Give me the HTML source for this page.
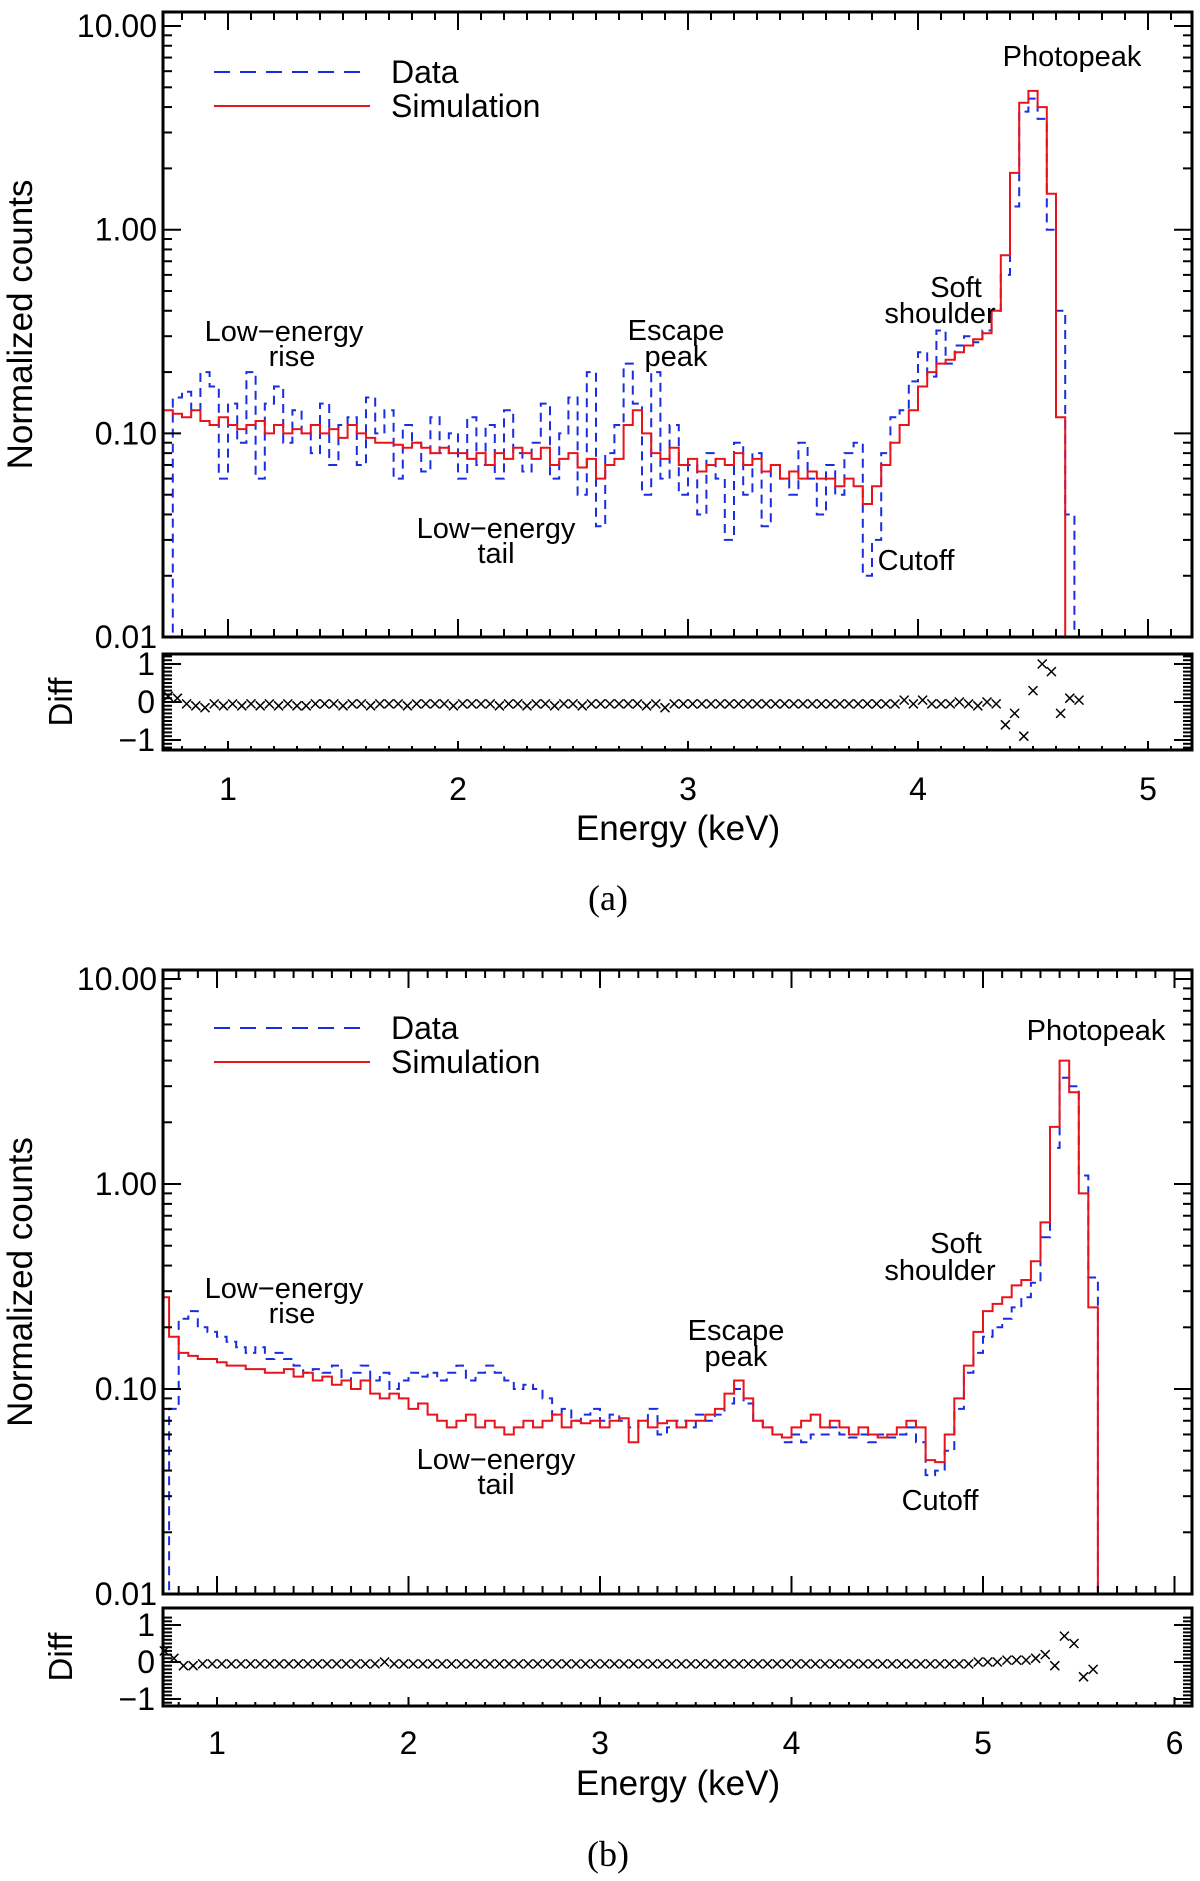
<!DOCTYPE html>
<html><head><meta charset="utf-8"><style>
body{margin:0;background:#fff;width:1200px;height:1881px;overflow:hidden}
svg{display:block}
text{font-family:"Liberation Sans","DejaVu Sans",sans-serif;fill:#000}
</style></head><body>
<svg id="fig" width="1200" height="1881" viewBox="0 0 1200 1881" xmlns="http://www.w3.org/2000/svg"></svg>
<script>
// ---------- Panel (a) data: bins start 0.72 keV, width 0.04 ----------
const simA = [.13,.125,.12,.13,.115,.11,.12,.11,.105,.11,
.115,.10,.11,.10,.105,.10,.11,.10,.105,.095,
.11,.10,.095,.09,.09,.088,.085,.09,.085,.08,
.085,.08,.08,.075,.08,.07,.08,.075,.085,.08,
.075,.085,.07,.075,.08,.068,.075,.06,.07,.075,
.11,.13,.10,.08,.075,.085,.07,.075,.065,.07,
.075,.07,.08,.07,.075,.065,.07,.06,.065,.06,
.065,.06,.06,.055,.06,.055,.045,.055,.07,.09,
.11,.13,.17,.20,.22,.23,.25,.27,.29,.31,
.40,.75,1.9,4.2,4.8,4.0,1.5,.12,.005,.005];
const dataA = [.005,.15,.16,.13,.20,.17,.06,.14,.09,.20,
.06,.14,.17,.09,.13,.10,.08,.14,.07,.11,
.12,.07,.15,.10,.13,.06,.11,.09,.065,.12,
.08,.10,.06,.12,.07,.11,.06,.13,.08,.065,
.09,.14,.06,.10,.15,.05,.20,.035,.08,.11,
.22,.14,.05,.20,.06,.11,.05,.07,.04,.08,
.06,.03,.09,.05,.08,.035,.07,.06,.05,.09,
.06,.04,.07,.05,.08,.09,.02,.03,.08,.12,
.13,.18,.25,.19,.32,.22,.27,.30,.28,.32,
.40,.60,1.3,3.8,4.4,3.5,1.0,.4,.04,.005];
const diffA = [.15,.1,-.05,-.1,-.15,-.05,-.1,-.05,-.1,-.05,
-.1,-.05,-.1,-.05,-.1,-.1,-.05,-.05,-.05,-.1,
-.05,-.05,-.1,-.05,-.05,-.05,-.1,-.05,-.05,-.05,
-.05,-.1,-.05,-.05,-.05,-.05,-.1,-.05,-.05,-.1,
-.05,-.05,-.1,-.05,-.05,-.1,-.05,-.05,-.05,-.05,
-.05,-.05,-.1,-.05,-.15,-.05,-.05,-.05,-.05,-.05,
-.05,-.05,-.05,-.05,-.05,-.05,-.05,-.05,-.05,-.05,
-.05,-.05,-.05,-.05,-.05,-.05,-.05,-.05,-.05,-.05,
.05,-.05,.05,-.05,-.05,-.05,0,-.05,-.1,0,
-.05,-.6,-.3,-.9,.3,1.0,.8,-.3,.1,.05];
// ---------- Panel (b) data: bins start 0.70 keV, width 0.05 ----------
const simB = [.28,.18,.15,.145,.14,.14,.135,.13,.13,.125,
.125,.12,.12,.125,.115,.12,.11,.115,.105,.11,
.10,.11,.095,.09,.095,.09,.08,.085,.075,.07,
.065,.07,.075,.065,.07,.065,.06,.065,.07,.065,
.07,.075,.065,.07,.068,.07,.065,.07,.072,.055,
.07,.065,.068,.07,.065,.07,.07,.075,.08,.095,
.11,.09,.07,.065,.06,.058,.065,.07,.075,.065,
.07,.065,.06,.065,.06,.058,.06,.065,.07,.065,
.045,.044,.06,.09,.13,.19,.24,.26,.28,.32,
.34,.42,.65,1.9,4.0,2.8,.9,.25];
const dataB = [.005,.08,.22,.24,.20,.19,.18,.17,.16,.15,
.16,.14,.15,.14,.13,.12,.125,.12,.13,.11,
.12,.13,.11,.12,.10,.11,.12,.115,.12,.11,
.12,.13,.11,.12,.13,.12,.11,.10,.105,.10,
.09,.075,.08,.07,.075,.08,.07,.075,.07,.065,
.07,.08,.06,.065,.07,.065,.075,.07,.075,.085,
.10,.085,.07,.065,.06,.055,.06,.055,.06,.06,
.065,.06,.058,.06,.055,.06,.058,.06,.065,.055,
.038,.04,.05,.08,.12,.15,.18,.20,.22,.25,
.28,.33,.55,1.5,3.3,3.0,1.1,.35];
const diffB = [.3,.1,-.1,-.1,-.05,-.05,-.05,-.05,-.05,-.05,
-.05,-.05,-.05,-.05,-.05,-.05,-.05,-.05,-.05,-.05,
-.05,-.05,-.05,0,-.05,-.05,-.05,-.05,-.05,-.05,
-.05,-.05,-.05,-.05,-.05,-.05,-.05,-.05,-.05,-.05,
-.05,-.05,-.05,-.05,-.05,-.05,-.05,-.05,-.05,-.05,
-.05,-.05,-.05,-.05,-.05,-.05,-.05,-.05,-.05,-.05,
-.05,-.05,-.05,-.05,-.05,-.05,-.05,-.05,-.05,-.05,
-.05,-.05,-.05,-.05,-.05,-.05,-.05,-.05,-.05,-.05,
-.05,-.05,-.05,-.05,-.05,0,0,0,.05,.05,
.05,.1,.2,-.1,.7,.5,-.4,-.2];
const yTickLabels = ["0.01","0.10","1.00","10.00"];
const yTickVals = [0.01,0.1,1,10];
const diffTickVals = [-1,0,1];
const diffTickLabels = ["\u22121","0","1"];

const NS="http://www.w3.org/2000/svg";
const svg=document.getElementById('fig');
function el(tag,attrs,parent){const e=document.createElementNS(NS,tag);for(const k in attrs)e.setAttribute(k,attrs[k]);(parent||svg).appendChild(e);return e;}

function panel(cfg){
  const g=el('g',{});
  
  
  const L=163,R=1192;
  const xs=e=>cfg.x1px+(e-1)*cfg.kev;
  const ys=v=>cfg.y10+(1-Math.log10(Math.max(v,0.004)))*cfg.dec;
  const yd=v=>cfg.d0-v*cfg.dunit;
  const clipId='clip'+cfg.tag;
  const cp=el('clipPath',{id:clipId},g);
  el('rect',{x:L,y:cfg.top,width:R-L,height:cfg.bot-cfg.top},cp);
  function hist(vals,start,w,attrs,name){
    let d='';
    vals.forEach((v,i)=>{const x0=xs(start+i*w),x1=xs(start+(i+1)*w),y=ys(v);
      d+=(i===0?'M':'L')+x0.toFixed(1)+','+y.toFixed(1)+'L'+x1.toFixed(1)+','+y.toFixed(1);});
    d+='L'+xs(start+vals.length*w).toFixed(1)+','+(cfg.bot+5);
    const p=el('path',Object.assign({d:d,fill:'none','clip-path':'url(#'+clipId+')'},attrs),g);
    
    
  }
  hist(cfg.data,cfg.start,cfg.w,{stroke:'#1a2ee0','stroke-width':2,'stroke-dasharray':'9,6'},'data-series');
  hist(cfg.sim,cfg.start,cfg.w,{stroke:'#e8141c','stroke-width':2},'simulation-series');
  const fr=el('rect',{x:L,y:cfg.top,width:R-L,height:cfg.bot-cfg.top,fill:'none',stroke:'#000','stroke-width':3},g);
  
  for(let e=0.8;e<=cfg.xmax+1e-6;e+=0.1){
    const x=xs(e);if(x<L+2||x>R-2)continue;
    const major=Math.abs(e-Math.round(e))<1e-6;const len=major?18:8;
    el('line',{x1:x,y1:cfg.bot,x2:x,y2:cfg.bot-len,stroke:'#000','stroke-width':2},g);
    el('line',{x1:x,y1:cfg.top,x2:x,y2:cfg.top+len,stroke:'#000','stroke-width':2},g);
    el('line',{x1:x,y1:cfg.dbot,x2:x,y2:cfg.dbot-len*0.5,stroke:'#000','stroke-width':2},g);
    if(major){const t=el('text',{x:x,y:cfg.xlab,'font-size':32,'text-anchor':'middle'},g);t.textContent=Math.round(e);
      }
  }
  for(let d=-2;d<=1;d++){for(let m=1;m<=9;m++){const v=m*Math.pow(10,d);const y=ys(v);
    if(y<cfg.top+1||y>cfg.bot-1)continue;const len=m===1?18:9;
    el('line',{x1:L,y1:y,x2:L+len,y2:y,stroke:'#000','stroke-width':2},g);
    el('line',{x1:R,y1:y,x2:R-len,y2:y,stroke:'#000','stroke-width':2},g);}}
  yTickVals.forEach((v,i)=>{const t=el('text',{x:L-6,y:ys(v)+11,'font-size':32,'text-anchor':'end'},g);t.textContent=yTickLabels[i];
    });
  const yt=el('text',{x:0,y:0,'font-size':35,'text-anchor':'middle',transform:'translate('+32+','+((cfg.top+cfg.bot)/2)+') rotate(-90)'},g);
  yt.textContent='Normalized counts';
  const df=el('rect',{x:L,y:cfg.dtop,width:R-L,height:cfg.dbot-cfg.dtop,fill:'none',stroke:'#000','stroke-width':3},g);
  
  for(let v=-1.2;v<=1.21;v+=0.1){const y=yd(v);if(y<cfg.dtop+2||y>cfg.dbot-2)continue;
    const major=Math.abs(v-Math.round(v))<1e-6;const len=major?18:9;
    el('line',{x1:L,y1:y,x2:L+len,y2:y,stroke:'#000','stroke-width':2},g);
    el('line',{x1:R,y1:y,x2:R-len,y2:y,stroke:'#000','stroke-width':2},g);}
  diffTickVals.forEach((v,i)=>{const t=el('text',{x:L-8,y:yd(v)+11,'font-size':32,'text-anchor':'end'},g);t.textContent=diffTickLabels[i];
    });
  const dt=el('text',{x:0,y:0,'font-size':33,'text-anchor':'middle',transform:'translate(72,'+((cfg.dtop+cfg.dbot)/2)+') rotate(-90)'},g);
  dt.textContent='Diff';
  cfg.diff.forEach((v,i)=>{const x=xs(cfg.start+(i+0.5)*cfg.w),y=yd(v),s=4.5;
    const p=el('path',{d:`M${x-s},${y-s}L${x+s},${y+s}M${x-s},${y+s}L${x+s},${y-s}`,stroke:'#000','stroke-width':1.5},g);
    });
  const xt=el('text',{x:678,y:cfg.xtitle,'font-size':35,'text-anchor':'middle'},g);
  xt.textContent='Energy (keV)';
  const cap=el('text',{x:608,y:cfg.cap,'font-size':36,'text-anchor':'middle',style:'font-family:"Liberation Serif",serif'},g);
  cap.textContent=cfg.caption;
  const lg=el('g',{},g);
  el('line',{x1:214,y1:cfg.leg1,x2:370,y2:cfg.leg1,stroke:'#1a2ee0','stroke-width':2,'stroke-dasharray':'16,10'},lg);
  el('line',{x1:214,y1:cfg.leg2,x2:370,y2:cfg.leg2,stroke:'#e8141c','stroke-width':2},lg);
  const t1=el('text',{x:391,y:cfg.leg1+11,'font-size':32},lg);t1.textContent='Data';
  const t2=el('text',{x:391,y:cfg.leg2+11,'font-size':32},lg);t2.textContent='Simulation';
  cfg.notes.forEach(n=>{const t=el('text',{x:n[1],y:n[2]+10,'font-size':29,'text-anchor':'middle'},g);t.textContent=n[0];
    });
}
panel({name:'panel-a',tag:'a',start:0.72,w:0.04,sim:simA,data:dataA,diff:diffA,
  x1px:228,kev:230,xmax:5.2,top:12,bot:637,y10:26,dec:203.7,dtop:654,dbot:750,d0:702,dunit:38,
  xlab:800,xtitle:840,cap:910,caption:'(a)',leg1:72,leg2:106,
  notes:[['Low\u2212energy',284,331],['rise',292,356],['Escape',676,330],['peak',676,356],['Low\u2212energy',496,528],['tail',496,553],['Soft',956,287],['shoulder',940,313],['Cutoff',916,560],['Photopeak',1072,56]]});
panel({name:'panel-b',tag:'b',start:0.70,w:0.05,sim:simB,data:dataB,diff:diffB,
  x1px:217,kev:191.5,xmax:6.1,top:970,bot:1594,y10:979,dec:205,dtop:1608,dbot:1706,d0:1662,dunit:37,
  xlab:1754,xtitle:1795,cap:1866,caption:'(b)',leg1:1028,leg2:1062,
  notes:[['Low\u2212energy',284,1288],['rise',292,1313],['Escape',736,1330],['peak',736,1356],['Low\u2212energy',496,1459],['tail',496,1484],['Soft',956,1243],['shoulder',940,1270],['Cutoff',940,1500],['Photopeak',1096,1030]]});
</script>
</body></html>
